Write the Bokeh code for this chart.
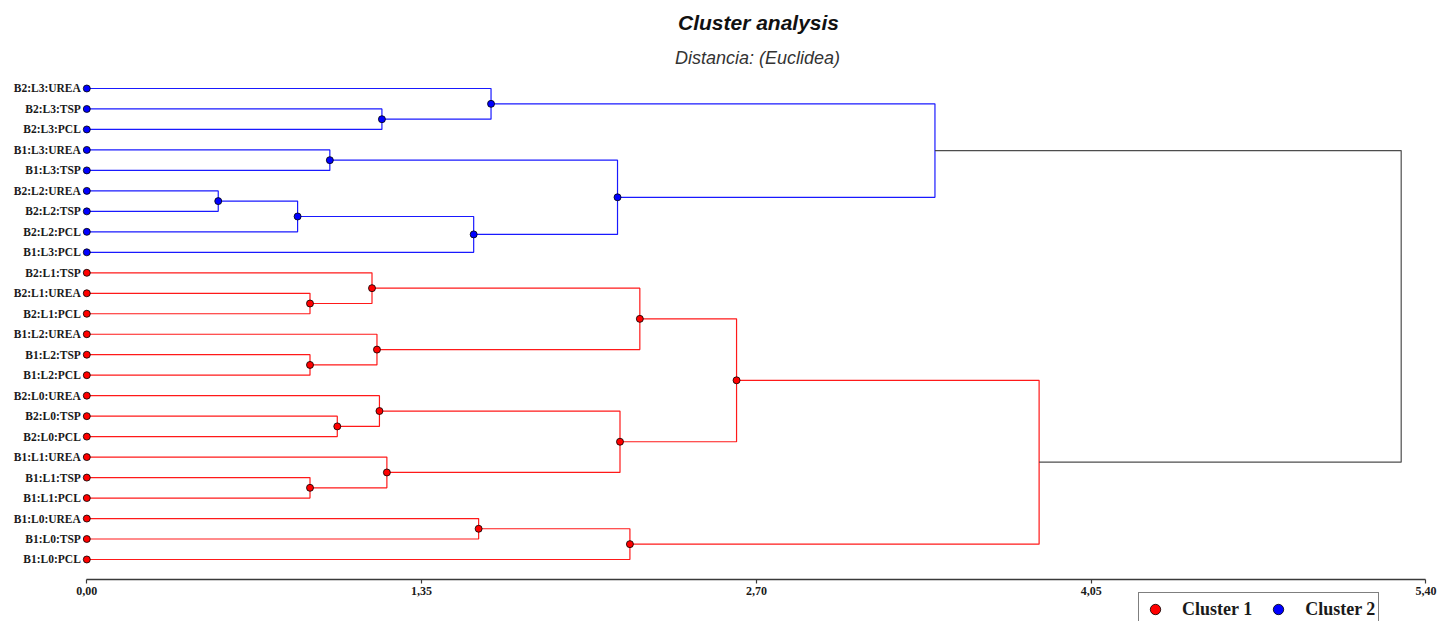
from bokeh.plotting import figure
from bokeh.models import (Range1d, ColumnDataSource, FixedTicker, CustomJSTickFormatter,
                          Label, Legend, LegendItem)
from bokeh.core.properties import value
from bokeh.embed import file_html
from bokeh.resources import INLINE

# ---------------- data ----------------
leaves = ["B2:L3:UREA", "B2:L3:TSP", "B2:L3:PCL", "B1:L3:UREA", "B1:L3:TSP",
          "B2:L2:UREA", "B2:L2:TSP", "B2:L2:PCL", "B1:L3:PCL",
          "B2:L1:TSP", "B2:L1:UREA", "B2:L1:PCL", "B1:L2:UREA", "B1:L2:TSP",
          "B1:L2:PCL", "B2:L0:UREA", "B2:L0:TSP", "B2:L0:PCL", "B1:L1:UREA",
          "B1:L1:TSP", "B1:L1:PCL", "B1:L0:UREA", "B1:L0:TSP", "B1:L0:PCL"]

# merges m0..m22: left child, right child, distance (children: leaf name or "m#")
merge_left = ["B2:L3:TSP", "B2:L3:UREA", "B1:L3:UREA", "B2:L2:UREA", "m3", "m4", "m2", "m1",
              "B2:L1:UREA", "B2:L1:TSP", "B1:L2:TSP", "B1:L2:UREA", "m9",
              "B2:L0:TSP", "B2:L0:UREA", "B1:L1:TSP", "B1:L1:UREA", "m14", "m12",
              "B1:L0:UREA", "m19", "m18", "m7"]
merge_right = ["B2:L3:PCL", "m0", "B1:L3:TSP", "B2:L2:TSP", "B2:L2:PCL", "B1:L3:PCL", "m5", "m6",
               "B2:L1:PCL", "m8", "B1:L2:PCL", "m10", "m11",
               "B2:L0:PCL", "m13", "B1:L1:PCL", "m15", "m16", "m17",
               "B1:L0:TSP", "B1:L0:PCL", "m20", "m21"]
merge_dist = [1.19, 1.63, 0.98, 0.53, 0.85, 1.56, 2.14, 3.42,
              0.90, 1.15, 0.90, 1.17, 2.23,
              1.01, 1.18, 0.90, 1.21, 2.15, 2.62,
              1.58, 2.19, 3.84, 5.30]

cluster_names = ["Cluster 1", "Cluster 2"]
cluster_tops = ["m21", "m7"]
cluster_colors = ["#FF0000", "#0000FF"]
root_color = "#3a3a3a"

tick_values = [0.0, 1.35, 2.70, 4.05, 5.40]

# ---------------- layout of the tree ----------------
ypos = {name: float(i) for i, name in enumerate(leaves)}
xpos = {name: 0.0 for name in leaves}
children = {}
for k, (a, b, d) in enumerate(zip(merge_left, merge_right, merge_dist)):
    m = "m%d" % k
    ypos[m] = (ypos[a] + ypos[b]) / 2.0
    xpos[m] = d
    children[m] = (a, b)

node_cluster = {}
def assign(node, c):
    node_cluster[node] = c
    if node in children:
        for ch in children[node]:
            assign(ch, c)
for c, top in enumerate(cluster_tops):
    assign(top, c)

root = "m%d" % (len(merge_dist) - 1)
line_xs, line_ys, line_col = [], [], []
for m, (a, b) in children.items():
    line_xs.append([xpos[a], xpos[m], xpos[m], xpos[b]])
    line_ys.append([ypos[a], ypos[a], ypos[b], ypos[b]])
    line_col.append(root_color if m == root else cluster_colors[node_cluster[m]])

dot_sets = []
for c in range(len(cluster_names)):
    names = [n for n in leaves if node_cluster[n] == c]
    names += [m for m in children if m not in cluster_tops and m != root and node_cluster.get(m) == c]
    dot_sets.append(dict(x=[xpos[n] for n in names], y=[ypos[n] for n in names]))

# ---------------- figure ----------------
W, H = 1440, 621
n_leaf = len(leaves)
axis_y = n_leaf - 0.023          # axis line just below the last leaf
p = figure(width=W, height=H, output_backend="svg", toolbar_location=None,
           x_range=Range1d(-0.348, 5.4585), y_range=Range1d(26.028, -4.297),
           y_axis_location=None, min_border_left=0, min_border_right=0,
           min_border_top=0, min_border_bottom=0, outline_line_color=None,
           background_fill_color="white", border_fill_color="white")
p.xgrid.visible = False
p.ygrid.visible = False

p.multi_line(xs="xs", ys="ys", line_color="c", line_width=1.2, line_alpha=0.9,
             source=ColumnDataSource(dict(xs=line_xs, ys=line_ys, c=line_col)))

dot_renderers = []
for c in range(len(cluster_names)):
    r = p.scatter(x="x", y="y", source=ColumnDataSource(dot_sets[c]), size=7,
                  fill_color=cluster_colors[c], line_color="black", line_width=0.8)
    dot_renderers.append(r)

p.text(x=[0.0] * n_leaf, y=[ypos[n] for n in leaves], text=leaves,
       x_offset=-6, text_align="right", text_baseline="middle",
       text_font=value("Liberation Serif"), text_font_style="bold",
       text_font_size="11.5px", text_color="#1a1a1a")

ax = p.xaxis[0]
ax.fixed_location = axis_y
ax.ticker = FixedTicker(ticks=tick_values)
ax.formatter = CustomJSTickFormatter(code="return tick.toFixed(2).replace('.', ',');")
ax.bounds = (tick_values[0], tick_values[-1])
ax.axis_line_color = "#3a3a3a"
ax.axis_line_width = 1.6
ax.major_tick_line_color = "#3a3a3a"
ax.major_tick_line_width = 1.2
ax.major_tick_out = 4
ax.major_tick_in = 0
ax.minor_tick_line_color = None
ax.major_label_standoff = 4
ax.major_label_text_font = "Liberation Serif"
ax.major_label_text_font_style = "bold"
ax.major_label_text_font_size = "12px"
ax.major_label_text_color = "#1a1a1a"

p.add_layout(Label(x=758, y=599, x_units="screen", y_units="screen",
                   text="Cluster analysis", text_align="center", text_baseline="alphabetic",
                   text_font="Liberation Sans", text_font_style="bold italic",
                   text_font_size="21px", text_color="#111111"))
p.add_layout(Label(x=757, y=564, x_units="screen", y_units="screen",
                   text="Distancia: (Euclidea)", text_align="center", text_baseline="alphabetic",
                   text_font="Liberation Sans", text_font_style="italic",
                   text_font_size="18px", text_color="#333333"))

legend = Legend(items=[LegendItem(label=cluster_names[i], renderers=[dot_renderers[i]])
                       for i in range(len(cluster_names))],
                orientation="horizontal", location=(1138, -5),
                glyph_width=26, glyph_height=26, label_standoff=14, spacing=13,
                padding=3, margin=0, border_line_color="black", border_line_width=1.5,
                background_fill_color="white", background_fill_alpha=1.0,
                label_text_font="Liberation Serif", label_text_font_style="bold",
                label_text_font_size="18px", label_text_color="#1a1a1a",
                label_height=26)
p.add_layout(legend)

open("out.html", "w").write(file_html(p, INLINE))
